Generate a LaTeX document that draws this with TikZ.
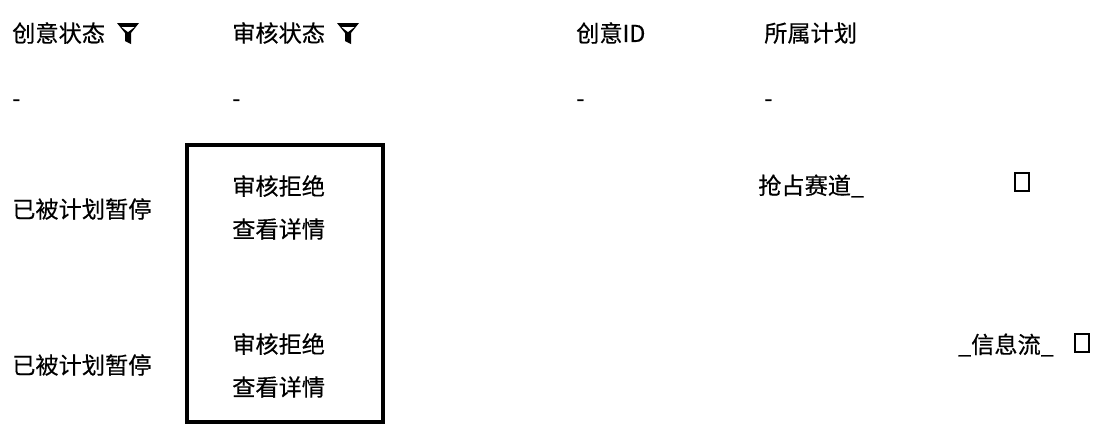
\documentclass[tikz,border=0pt]{standalone}
\usepackage{fontspec}
\setmainfont{Noto Sans CJK SC}[FakeBold=0.4]
\usetikzlibrary{positioning}
\tikzset{
    header/.style={anchor=west, inner sep=0pt, font=\fontsize{19.8pt}{23pt}\selectfont},
    cell/.style={anchor=west, inner sep=0pt, font=\fontsize{19.8pt}{23pt}\selectfont},
    nullcell/.style={anchor=west, inner sep=0pt, font=\fontsize{19.8pt}{23pt}\selectfont},
    highlight/.style={rectangle, draw=black, line width=2.6pt, inner sep=0pt, minimum width=5.88cm, minimum height=8.31cm},
    tofu/.style={rectangle, draw=black, line width=1.6pt, inner sep=0pt, minimum width=0.42cm, minimum height=0.52cm},
    funnel/.style={fill=black}
}
\begin{document}
\begin{tikzpicture}[x=0.03cm, y=-0.03cm]
        \useasboundingbox (0,0) rectangle (1108,434);

        % Header row
        \node[header] (hcreative) at (12, 33) {创意状态};
        \node[header] (haudit) at (232, 33) {审核状态};
        \node[header] (hid) at (576, 33) {创意ID};
        \node[header] (hplan) at (764, 33) {所属计划};

        % Filter icons
        \fill[funnel] (117,23) -- (139,23) -- (131,33) -- (131,44) -- (125,41) -- (125,33) -- cycle;
        \fill[white] (121.5,27) -- (134.5,27) -- (128,32) -- cycle;
        \fill[funnel] (337,23) -- (359,23) -- (351,33) -- (351,44) -- (345,41) -- (345,33) -- cycle;
        \fill[white] (341.5,27) -- (354.5,27) -- (348,32) -- cycle;

        % Empty row
        \node[nullcell] (n1) at (12, 103) {-};
        \node[nullcell] (n2) at (232, 103) {-};
        \node[nullcell] (n3) at (576, 103) {-};
        \node[nullcell] (n4) at (764, 103) {-};

        % Row 1
        \node[cell] (s1) at (12, 209) {已被计划暂停};
        \node[cell] (a1) at (232, 186) {审核拒绝};
        \node[cell] (d1) at (232, 229) {查看详情};
        \node[cell] (p1) at (758, 186) {抢占赛道\_};
        \node[tofu] (t1) at (1022, 182) {};

        % Row 2
        \node[cell] (s2) at (12, 365) {已被计划暂停};
        \node[cell] (a2) at (232, 344) {审核拒绝};
        \node[cell] (d2) at (232, 387) {查看详情};
        \node[cell] (p2) at (958, 345) {\_信息流\_};
        \node[tofu] (t2) at (1082, 343) {};

        % Highlighted audit cells
        \node[highlight] (hl) at (285, 283.5) {};
    \end{tikzpicture}
\end{document}
